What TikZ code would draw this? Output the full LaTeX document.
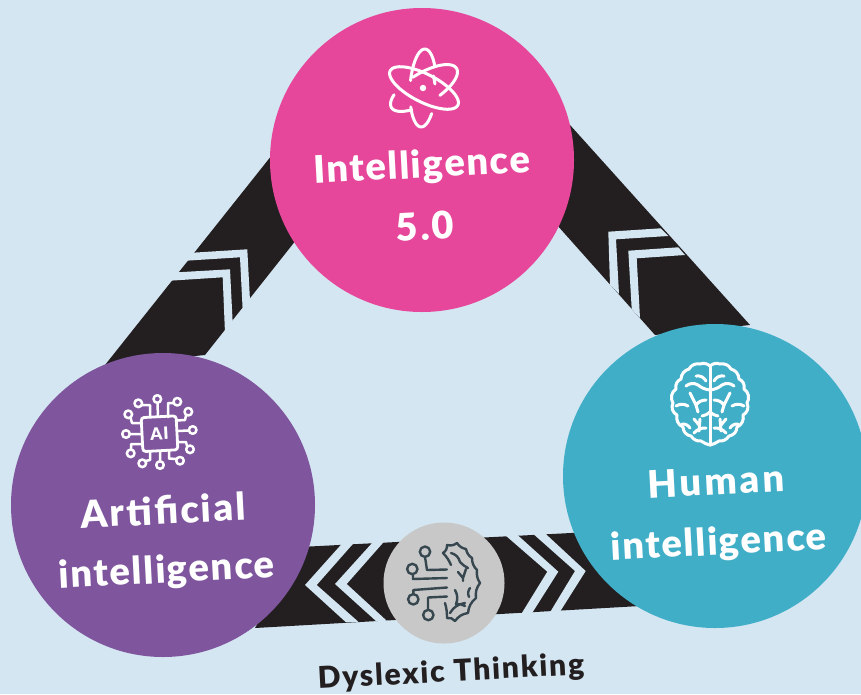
\documentclass[tikz,border=0pt]{standalone}
\usepackage{fontspec}
\setmainfont{Lato}
\usetikzlibrary{calc}
\definecolor{bgc}{HTML}{D4E6F2}
\definecolor{barc}{HTML}{231F20}
\definecolor{pinkc}{HTML}{E6479B}
\definecolor{purplec}{HTML}{7F569E}
\definecolor{bluec}{HTML}{41AEC8}
\definecolor{greyc}{HTML}{C8C8C8}
\definecolor{iconc}{HTML}{37474F}
\newfontfamily\lblfont[LetterSpace=6]{Lato Black}
\newfontfamily\lblfontb[LetterSpace=4.5]{Lato Black}
\newfontfamily\humfont[LetterSpace=8]{Lato Black}
\newfontfamily\capfont[LetterSpace=6]{Lato Black}
\tikzset{
  bigcircle/.style={circle,draw=none,minimum size=304pt,inner sep=0pt},
  lbl/.style={text=white,font=\lblfont\fontsize{38}{38}\selectfont,rotate=3,inner sep=0pt},
  lblb/.style={lbl,font=\lblfontb\fontsize{38}{38}\selectfont},
  bar/.style={fill=barc,draw=none},
  strip/.style={fill=bgc,draw=none},
  icon/.style={draw=white,line width=3pt,line cap=round,line join=round},
  ticon/.style={draw=iconc,line width=2.4pt,line cap=round,line join=round},
}
\newcommand{\ellarc}[8]{% opts cx cy a b rot start end
  \draw[#1] plot[domain=#7:#8,samples=50,smooth,variable=\t]
   ({#2+#4*cos(\t)*cos(#6)-#5*sin(\t)*sin(#6)},{#3+#4*cos(\t)*sin(#6)+#5*sin(\t)*cos(#6)});}
\begin{document}
\begin{tikzpicture}[x=1pt,y=-1pt]
\useasboundingbox[fill=bgc] (0,0) rectangle (861,694);
% bars
\fill[bar] (105,365) -- (272,155) -- (300,235) -- (205,355) -- cycle;
\fill[bar] (570,125) -- (750,325) -- (655,335) -- (557,225) -- cycle;
\fill[bar] (255,628) -- (300,547) -- (600,531.5) -- (640,606) -- cycle;
% left bar chevrons
\fill[strip] (192.7,252.7) -- (247.3,249.3) -- (250,300.7) -- (242.7,310.7) -- (240,257.3) -- (186,260.7) -- cycle;
\fill[strip] (177.3,272.3) -- (230,269.3) -- (232.7,323.3) -- (225,333.3) -- (222.7,277.3) -- (170,280.7) -- cycle;
% right bar chevrons
\fill[strip] (608.3,231.7) -- (660.7,228.3) -- (668.3,236) -- (616,239.3) -- (619,294) -- (610,285) -- cycle;
\fill[strip] (628.3,250.7) -- (678.3,247.3) -- (685,255) -- (636.7,258.3) -- (640,318) -- (631.7,309) -- cycle;
% bottom bar chevrons
\fill[strip] (342.3,543.3) -- (354,542.7) -- (316.7,585) -- (358.3,621.7) -- (346,622.3) -- (305,585) -- cycle;
\fill[strip] (372.7,542.3) -- (384,541.7) -- (346.7,584) -- (386.7,620.7) -- (376,621) -- (335,584) -- cycle;
\fill[strip] (505,535) -- (516.7,534.3) -- (558.3,571.7) -- (532.3,612.7) -- (521.7,613.3) -- (547.3,571.7) -- cycle;
\fill[strip] (533.3,534) -- (545,533.3) -- (585.7,571) -- (560,611.7) -- (550,612.3) -- (575,571) -- cycle;
% circles
\node[bigcircle,fill=pinkc] (top) at (422,160) {};
\node[bigcircle,fill=purplec] (ai) at (163,505) {};
\node[bigcircle,fill=bluec] (hi) at (715,476) {};
\node[circle,fill=greyc,minimum size=121pt,inner sep=0pt] (dt) at (444,583) {};
% labels
\node[lblb] (t1) at (422,167) {Intelligence};
\node[lbl] (t2) at (425,226) {5.0};
\node[lbl] (a1) at (163,510) {Artificial};
\node[lblb] (a2) at (167,572) {intelligence};
\node[lbl,font=\humfont\fontsize{38}{38}\selectfont] (h1) at (716,481) {Human};
\node[lblb] (h2) at (719,544) {intelligence};
\node[text=barc,font=\capfont\fontsize{30}{30}\selectfont,rotate=3,inner sep=0pt] (cap) at (451,673) {Dyslexic Thinking};
% atom icon
\ellarc{icon}{424}{88}{38}{14}{27}{0}{360}
\ellarc{icon}{424}{88}{38}{15}{-31}{-96}{75}
\ellarc{icon}{424}{88}{38}{15}{-31}{125}{220}
\ellarc{icon}{423}{88}{39}{13}{-87}{-80}{55}
\ellarc{icon}{423}{88}{39}{13}{-87}{130}{240}
\fill[white] (423,88) circle (3.2);
\draw[icon] (433.5,76) -- (435,84);
% AI icon
\node[draw=white,line width=2.8pt,rounded corners=3pt,minimum width=35pt,minimum height=34pt,inner sep=0pt,rotate=3] (chip) at (159.5,433.7) {};
\node[text=white,font=\lblfont\fontsize{17}{17}\selectfont,inner sep=0pt,rotate=3] (ailbl) at (159.5,434) {AI};
\foreach \p in {(157.3,399),(138.3,403.3),(177.3,401.7),(128.3,414.3),(188.3,411.7),(126,434),(192.7,430),(130.7,453.3),(190,449.3),(142.3,463.3),(180,460.7),(160,465)}
  \draw[icon,line width=2.5pt] \p circle (3.8);
\draw[icon,line width=2.5pt]
  (157.5,403) -- (158,417)
  (142,405) -- (150,405) -- (150,417)
  (173.5,403) -- (168,403) -- (168,417)
  (130.5,417.5) -- (132,423) -- (142,423)
  (186,415.5) -- (185,420) -- (177,420.5)
  (130,434) -- (142,434)
  (189,430.5) -- (177,431)
  (131,449.5) -- (131,444) -- (142,444)
  (187,446) -- (186,442) -- (177,442)
  (145.5,461) -- (150,460) -- (150,451)
  (176.3,459) -- (169,458.5) -- (169,451)
  (160,461) -- (160,451);
% human brain icon
\draw[icon] (710,367) -- (710,445);
\foreach \sx in {1,-1}{
 \begin{scope}[xshift=710pt,xscale=\sx]
  \draw[icon] (0,366) to[bend right=30] (-10,364) to[bend right=35] (-21,369) to[bend right=35] (-29,379)
   to[bend right=40] (-34,389) to[bend right=45] (-37,403) to[bend right=45] (-33,415) to[bend right=40] (-27,427)
   to[bend right=40] (-19,436) to[bend right=30] (-9,441) to[bend right=10] (0,445);
  \draw[icon] (-14,376) to[bend left=35] (-4,381);
  \draw[icon] (-24,386) to[bend left=35] (-12,385) (-12,385) to[bend right=15] (0,390);
  \draw[icon] (-20,393) -- (-14,405) to[bend left=25] (-4,400);
  \draw[icon] (-14,405) -- (-12,412);
  \draw[icon] (-34,406) to[bend left=30] (-22,406);
  \draw[icon] (0,412) to[bend left=15] (-8,416);
  \draw[icon] (-28,424) to[bend left=30] (-20,428);
  \draw[icon] (-16,433) to[bend left=25] (-4,428) (-11,431) -- (-10,419) (-11,425)-- (-16,419);
 \end{scope}}
% circuit brain icon
\foreach \p in {(425,551.7),(412.3,569),(413.3,599.3),(428.3,615)}
  \draw[ticon] \p circle (5.2);
\draw[ticon] (425,557) -- (427,570) -- (447,569.5)
  (413,574.5) -- (413,579) -- (447,578)
  (413.3,594) -- (413.3,590) -- (447,587.5)
  (428,610) -- (428,597.5) -- (447,596.5);
\draw[ticon] (451,565) to[bend right=10] (443,553) to[bend right=30] (447,545) to[bend right=25] (457,543)
  to[bend right=22] (466,549) to[bend right=22] (472,558) to[bend right=22] (477,570) to[bend right=20] (480,583)
  to[bend right=22] (476,598) to[bend right=22] (468,613) to[bend right=22] (455,621) to[bend right=30] (447,618)
  to[bend right=8] (445,603);
\draw[ticon] (451,553) to[bend left=30] (460,562) (460,562) to[bend right=10] (468,568)
  (458,572) -- (463,578) (463,578) -- (466,569) (463,578) -- (463,581)
  (470,588) to[bend right=30] (469,597)
  (455,590) to[bend left=25] (456,604) to[bend left=15] (465,606)
  (450,613) to[bend left=25] (465,603);
\end{tikzpicture}
\end{document}
